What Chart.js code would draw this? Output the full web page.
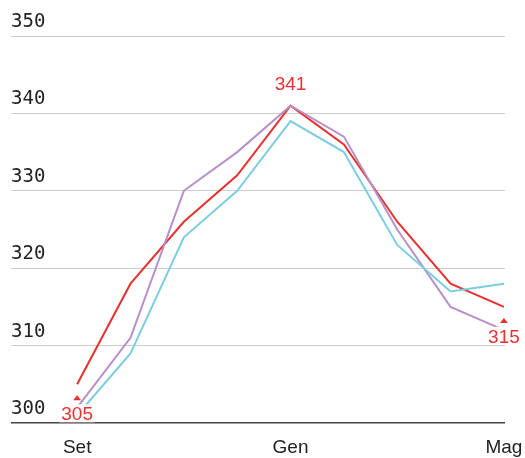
<!DOCTYPE html>
<html>
<head>
<meta charset="utf-8">
<script src="https://cdn.jsdelivr.net/npm/chart.js@4"></script>
<style>
html,body{margin:0;padding:0;background:#fff;}
#wrap{width:525px;height:458px;}
</style>
</head>
<body>
<div id="wrap"><canvas id="c" width="525" height="458"></canvas></div>
<script>
const months = ["Set","Ott","Nov","Dic","Gen","Feb","Mar","Apr","Mag"];
const shownMonths = ["Set","Gen","Mag"];
const yTicks = [300,310,320,330,340,350];
const seriesRed = [305,318,326,332,341,336,326,318,315];
const seriesPurple = [302,311,330,335,341,337,325,315,312];
const seriesCyan = [301,309,324,330,339,335,323,317,318];
const annotations = [
  {index:0, value:305, pos:"below"},
  {index:4, value:341, pos:"above"},
  {index:8, value:315, pos:"below"}
];

const RED = "#e8312f", PURPLE = "#b98fc9", CYAN = "#7ccde2";
const toXY = arr => arr.map((v,i)=>({x:i,y:v}));

const annotPlugin = {
  id:"annot",
  afterDatasetsDraw(chart){
    const {ctx, scales:{x,y}} = chart;
    ctx.save();
    ctx.font = "19px 'Liberation Sans', Arial, sans-serif";
    ctx.textAlign = "center";
    annotations.forEach(a=>{
      const px = x.getPixelForValue(a.index);
      const py = y.getPixelForValue(a.value);
      if (a.pos === "below") {
        const w = ctx.measureText(String(a.value)).width;
        ctx.fillStyle = "#fff";
        ctx.fillRect(px - w/2 - 2, py + 20, w + 4, 18);
        ctx.fillStyle = RED;
        ctx.beginPath();
        ctx.moveTo(px, py + 11);
        ctx.lineTo(px + 4, py + 16);
        ctx.lineTo(px - 4, py + 16);
        ctx.closePath();
        ctx.fill();
        ctx.textBaseline = "alphabetic";
        ctx.fillText(String(a.value), px, py + 36);
      } else {
        ctx.fillStyle = RED;
        ctx.textBaseline = "alphabetic";
        ctx.fillText(String(a.value), px, py - 16);
      }
    });
    ctx.restore();
  }
};

new Chart(document.getElementById("c"), {
  type:"line",
  data:{
    datasets:[
      {data:toXY(seriesCyan), borderColor:CYAN, borderWidth:2, pointRadius:0, tension:0},
      {data:toXY(seriesPurple), borderColor:PURPLE, borderWidth:2, pointRadius:0, tension:0},
      {data:toXY(seriesRed), borderColor:RED, borderWidth:2, pointRadius:0, tension:0}
    ]
  },
  options:{
    responsive:false,
    animation:false,
    events:[],
    layout:{padding:{top:36,left:11,right:20,bottom:0}},
    plugins:{legend:{display:false},tooltip:{enabled:false}},
    scales:{
      x:{
        type:"linear",
        min:-1.24, max:8.02,
        grid:{display:false, drawTicks:false},
        border:{display:false},
        afterBuildTicks:(axis)=>{ axis.ticks = shownMonths.map(m=>({value:months.indexOf(m)})); },
        afterFit:(axis)=>{ axis.height = 35; axis.paddingLeft = 0; axis.paddingRight = 0; },
        ticks:{
          autoSkip:false, maxRotation:0, padding:13,
          color:"#222",
          font:{family:"'Liberation Sans', Arial, sans-serif", size:19},
          callback:(v)=>months[v] ?? ""
        }
      },
      y:{
        min:300, max:350,
        afterBuildTicks:(axis)=>{ axis.ticks = yTicks.map(v=>({value:v})); },
        afterFit:(axis)=>{ axis.width = 0; axis.paddingTop = 0; axis.paddingBottom = 0; },
        border:{display:false},
        grid:{
          drawTicks:false,
          color:(c)=> c.tick && c.tick.value===300 ? "#444" : "#cccccc",
          lineWidth:(c)=> c.tick && c.tick.value===300 ? 1.5 : 1
        },
        ticks:{
          mirror:true, padding:0, labelOffset:-14,
          color:"#222",
          font:{family:"'DejaVu Sans Mono', monospace", size:19}
        }
      }
    }
  },
  plugins:[annotPlugin]
});
</script>
</body>
</html>
